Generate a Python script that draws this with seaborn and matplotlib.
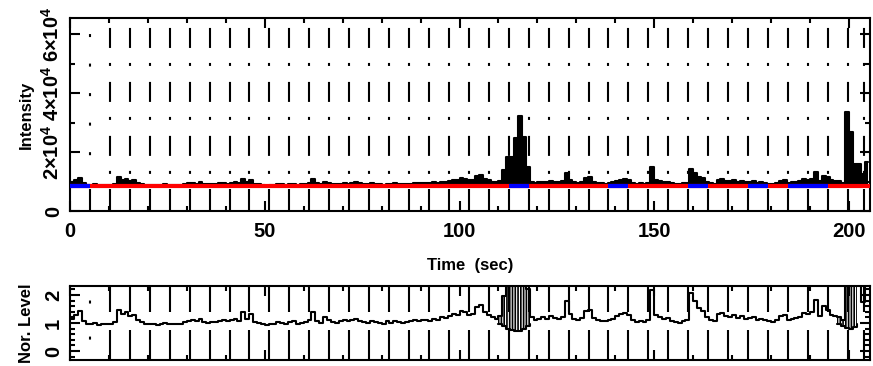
import numpy as np
import pandas as pd
import seaborn as sns
import matplotlib.pyplot as plt
from matplotlib.ticker import MultipleLocator, FixedLocator

# Light curve, 1 s bins (start time of each bin), intensity in units of 1e3
bin_start = np.arange(0, 205)
intensity_k = [
    9.8, 10.4, 11.2, 9.4, 8.9, 8.8, 9.0, 8.7, 8.9, 8.8,
    8.9, 9.2, 11.4, 10.6, 11.0, 10.2, 10.5, 9.6, 9.2, 8.9,
    8.8, 8.9, 8.7, 8.8, 9.0, 8.9, 8.8, 8.9, 8.8, 9.1,
    9.4, 9.6, 9.3, 9.7, 9.2, 9.0, 9.1, 9.2, 9.4, 9.6,
    9.3, 9.5, 9.7, 9.4, 11.0, 9.8, 10.6, 9.2, 9.0, 8.8,
    8.6, 8.9, 8.8, 9.2, 9.0, 8.9, 9.1, 9.3, 8.8, 9.0,
    9.2, 9.6, 11.0, 9.4, 9.0, 10.0, 9.6, 9.2, 9.0, 9.3,
    9.5, 9.3, 9.6, 9.8, 9.4, 9.2, 9.0, 9.4, 9.1, 9.0,
    8.9, 9.3, 9.0, 9.4, 9.2, 9.0, 9.1, 9.3, 9.5, 9.4,
    9.5, 9.6, 9.4, 9.8, 9.6, 10.0, 9.9, 10.2, 10.6, 10.4,
    11.2, 11.0, 10.4, 10.6, 11.8, 12.2, 11.0, 10.4, 10.0, 9.8,
    10.2, 13.9, 18.3, 18.3, 24.7, 32.2, 25.0, 15.0, 10.0, 9.6,
    9.8, 10.0, 9.8, 10.2, 9.9, 9.7, 10.1, 12.9, 10.6, 9.7,
    9.5, 9.9, 11.2, 11.4, 9.9, 9.6, 9.4, 9.3, 9.5, 9.7,
    10.2, 10.6, 10.8, 10.4, 9.5, 9.2, 9.4, 9.1, 9.5, 14.9,
    10.4, 10.1, 9.7, 9.9, 9.4, 9.2, 9.0, 9.4, 9.6, 14.3,
    13.0, 11.6, 11.2, 10.0, 9.5, 9.3, 10.6, 10.8, 10.3, 10.1,
    10.5, 9.9, 10.3, 9.7, 9.9, 10.1, 9.5, 9.7, 9.5, 9.3,
    9.2, 9.5, 10.2, 10.4, 9.5, 9.7, 9.9, 10.1, 10.8, 10.6,
    11.0, 13.1, 10.2, 12.0, 11.4, 10.5, 10.3, 10.1, 9.6, 33.6,
    26.8, 16.0, 16.0, 12.7, 16.6,
]
data_end = 204.8

# Background level and 5.12 s segments
background = 8400.0
seg_len = 5.12
seg_edges = [seg_len * k for k in range(1, 40)] + [203.8]
blue_segments = [0, 22, 27, 31, 34, 36, 37]

# Normalisation used for the lower panel
nor_base = 9000.0
nor_scale = 5000.0

# Lower envelope of the normalised curve around the two flares
dip1_t = [110, 111, 112, 113, 114, 115, 116, 117, 118]
dip1_v = [0.97, 0.88, 0.80, 0.74, 0.72, 0.73, 0.80, 0.90, 0.98]
dip2_t = [197, 198, 199, 200, 201, 202]
dip2_v = [0.95, 0.88, 0.82, 0.80, 0.85, 0.97]

df = pd.DataFrame({'time': np.append(bin_start, data_end),
                   'intensity': np.append(intensity_k, intensity_k[-1])})
df['intensity'] = df['intensity'] * 1000
df['level'] = 1 + (df['intensity'] - nor_base) / nor_scale

sns.set_theme(style='ticks')
plt.rcParams.update({
    'font.family': ['Liberation Sans', 'DejaVu Sans'],
    'font.weight': 'bold',
    'font.size': 14.5,
    'axes.labelweight': 'bold',
    'mathtext.fontset': 'custom',
    'mathtext.rm': 'Liberation Sans:bold',
    'mathtext.it': 'Liberation Sans:bold',
    'mathtext.bf': 'Liberation Sans:bold',
    'lines.scale_dashes': False,
    'axes.linewidth': 1.5,
    'hatch.linewidth': 1.2,
    'text.color': 'black',
    'axes.labelcolor': 'black',
    'xtick.color': 'black',
    'ytick.color': 'black',
})

fig = plt.figure(figsize=(8.73, 3.66), dpi=100)
ax1 = fig.add_axes([0.0802, 0.4235, 0.9164, 0.5273])
ax2 = fig.add_axes([0.0802, 0.0164, 0.9164, 0.2022])

x_max = 205.4
y1_top = 65500
y2_lo, y2_hi = -0.32, 2.32

# --- Top panel: intensity ---
ax1.vlines(seg_edges, 0, 7600, color='black', lw=1.5)
ax1.vlines(seg_edges[1:], y1_top, 12000, color='black', lw=1.5,
           linestyles=[(31.7, (14.4, 10.8, 2.16, 11.5))])
ax1.vlines(seg_edges[:1], y1_top, 11500, color='black', lw=1.5,
           linestyles=[(9.7, (2.16, 19.1))])

sns.lineplot(data=df, x='time', y='intensity', drawstyle='steps-post',
             color='black', lw=1.5, ax=ax1, zorder=3)
ax1.fill_between(df['time'], background, df['intensity'], step='post',
                 color='black', lw=0, zorder=3)
ax1.hlines(background, 0, x_max, color='#ff0000', lw=3, zorder=4)
starts = [s * seg_len for s in blue_segments]
ends = [(s + 1) * seg_len for s in blue_segments]
ax1.hlines([background] * len(starts), starts, ends, color='#0000ff', lw=3, zorder=5)

ax1.set_xlim(0, x_max)
ax1.set_ylim(0, y1_top)
ax1.xaxis.set_major_locator(MultipleLocator(50))
ax1.xaxis.set_minor_locator(MultipleLocator(10))
ax1.yaxis.set_major_locator(FixedLocator([0, 20000, 40000, 60000]))
ax1.yaxis.set_minor_locator(MultipleLocator(10000))
ax1.set_yticklabels(['0', r'$2{\times}10^4$', r'$4{\times}10^4$', r'$6{\times}10^4$'],
                    rotation=90, va='center')
ax1.set_xlabel('Time  (sec)', labelpad=12)
ax1.set_ylabel('Intensity')
ax1.yaxis.set_label_coords(-0.045, 0.5)

# --- Bottom panel: normalised level ---
ax2.vlines(seg_edges[1:], y2_hi, 1.39, color='black', lw=1.5)
ax2.vlines(seg_edges[1:], 0.75, y2_lo, color='black', lw=1.5)
ax2.vlines(seg_edges[:1], y2_hi, y2_lo, color='black', lw=1.5,
           linestyles=[(15.5, (2.16, 23.8))])

sns.lineplot(data=df, x='time', y='level', drawstyle='steps-post',
             color='black', lw=1.5, ax=ax2, zorder=3)
for dt, dv in [(dip1_t, dip1_v), (dip2_t, dip2_v)]:
    top = df.set_index('time').loc[dt, 'level'].values
    ax2.fill_between(dt, dv, top, step='post', facecolor='none',
                     edgecolor='black', hatch='||||||', lw=0, zorder=3)
    sns.lineplot(x=dt, y=dv, drawstyle='steps-post', color='black',
                 lw=1.5, ax=ax2, zorder=3)

ax2.set_xlim(0, x_max)
ax2.set_ylim(y2_lo, y2_hi)
ax2.xaxis.set_major_locator(MultipleLocator(50))
ax2.xaxis.set_minor_locator(MultipleLocator(10))
ax2.yaxis.set_major_locator(FixedLocator([0, 1, 2]))
ax2.yaxis.set_minor_locator(MultipleLocator(0.2))
ax2.set_yticklabels(['0', '1', '2'], rotation=90, va='center')
ax2.set_xlabel('')
ax2.set_ylabel('Nor. Level')
ax2.yaxis.set_label_coords(-0.045, 0.5)

for ax in (ax1, ax2):
    ax.tick_params(which='both', direction='in', top=True, right=True,
                   width=1.5, labelsize=14.5)
    ax.tick_params(which='major', length=7)
    ax.tick_params(which='minor', length=3.5)
    ax.tick_params(axis='x', pad=8)
    ax.tick_params(axis='y', pad=5)
    for sp in ax.spines.values():
        sp.set_linewidth(1.5)
        sp.set_color('black')
ax2.tick_params(axis='x', labelbottom=False)

fig.savefig('out.png', dpi=100)
